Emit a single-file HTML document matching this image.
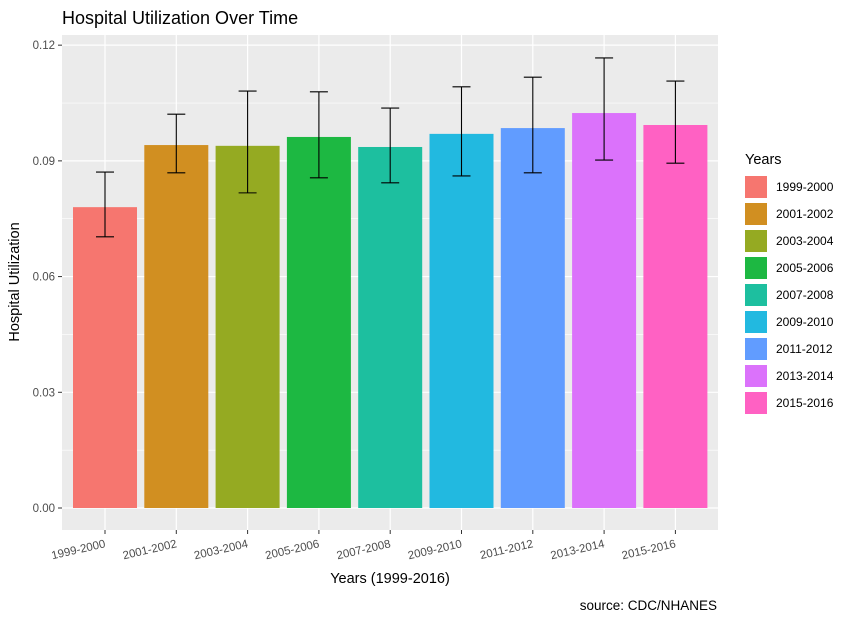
<!DOCTYPE html>
<html><head><meta charset="utf-8"><style>
body{margin:0;background:#fff;font-family:"Liberation Sans",Arial,sans-serif;}
svg text{font-family:"Liberation Sans",Arial,sans-serif;}
</style></head><body>
<svg id="chart" width="852" height="614" xmlns="http://www.w3.org/2000/svg">
<text x="62" y="24" font-size="18" fill="#000">Hospital Utilization Over Time</text>
<rect x="62" y="35" width="656" height="495" fill="#ebebeb"/>
<g id="grid"></g><g id="bars"></g><g id="errs"></g><g id="axes"></g><g id="legend"></g>
<text x="390" y="583" font-size="14.5" text-anchor="middle" fill="#000">Years (1999-2016)</text>
<text transform="translate(19,282) rotate(-90)" font-size="14.5" text-anchor="middle" fill="#000">Hospital Utilization</text>
<text x="717" y="610" font-size="13.5" text-anchor="end" fill="#000">source: CDC/NHANES</text>
</svg>
<script>
const categories=["1999-2000","2001-2002","2003-2004","2005-2006","2007-2008","2009-2010","2011-2012","2013-2014","2015-2016"];
const values=[0.078,0.0941,0.0939,0.0962,0.0936,0.097,0.0985,0.1024,0.0993];
const upper=[0.0871,0.1021,0.1081,0.1079,0.1037,0.1092,0.1117,0.1167,0.1107];
const lower=[0.0703,0.0869,0.0817,0.0856,0.0843,0.0861,0.0869,0.0902,0.0894];
const colors=["#F6766F","#D18F21","#95AA22","#1DB842","#1DBF9F","#22B9E0","#619CFF","#DB72FB","#FF61C3"];
const yTicks=[0,0.03,0.06,0.09,0.12];
const yTickLabels=["0.00","0.03","0.06","0.09","0.12"];
const NS="http://www.w3.org/2000/svg";
const y=v=>508-v*3857;
const step=71.3;
const x=i=>105+i*step;
function mk(tag,attrs,parent){const e=document.createElementNS(NS,tag);for(const k in attrs)e.setAttribute(k,attrs[k]);document.getElementById(parent).appendChild(e);return e;}
for(let i=0;i<yTicks.length-1;i++){const v=(yTicks[i]+yTicks[i+1])/2;const l=mk('line',{x1:62,x2:718,y1:y(v),y2:y(v),stroke:'#fff','stroke-width':0.6},'grid');}
yTicks.forEach((v,i)=>{const l=mk('line',{x1:62,x2:718,y1:y(v),y2:y(v),stroke:'#fff','stroke-width':1.2},'grid');
const t=mk('text',{x:55,y:y(v)+4,'font-size':11.5,'text-anchor':'end',fill:'#4d4d4d'},'axes');t.textContent=yTickLabels[i];
mk('line',{x1:58,x2:62,y1:y(v),y2:y(v),stroke:'#333'},'axes');});
categories.forEach((c,i)=>{const g=mk('line',{x1:x(i),x2:x(i),y1:35,y2:530,stroke:'#fff','stroke-width':1.2},'grid');});
categories.forEach((c,i)=>{
const b=mk('rect',{x:x(i)-32,y:y(values[i]),width:64,height:y(0)-y(values[i]),fill:colors[i]},'bars');
const e=mk('path',{d:`M${x(i)-9},${y(upper[i])}H${x(i)+9}M${x(i)},${y(upper[i])}V${y(lower[i])}M${x(i)-9},${y(lower[i])}H${x(i)+9}`,stroke:'#000','stroke-width':1.1,fill:'none'},'errs');
mk('line',{x1:x(i),x2:x(i),y1:530,y2:534,stroke:'#333'},'axes');
const t=mk('text',{transform:`translate(${x(i)+1},${547}) rotate(-13)`,'font-size':11.5,'text-anchor':'end',fill:'#4d4d4d'},'axes');t.textContent=c;
const k=mk('rect',{x:745,y:176+i*27,width:22,height:22,fill:colors[i]},'legend');
const lt=mk('text',{x:776,y:191+i*27,'font-size':12,fill:'#000'},'legend');lt.textContent=c;
});
const lt=mk('text',{x:745,y:164,'font-size':14.5,fill:'#000'},'legend');lt.textContent='Years';
</script>
</body></html>
